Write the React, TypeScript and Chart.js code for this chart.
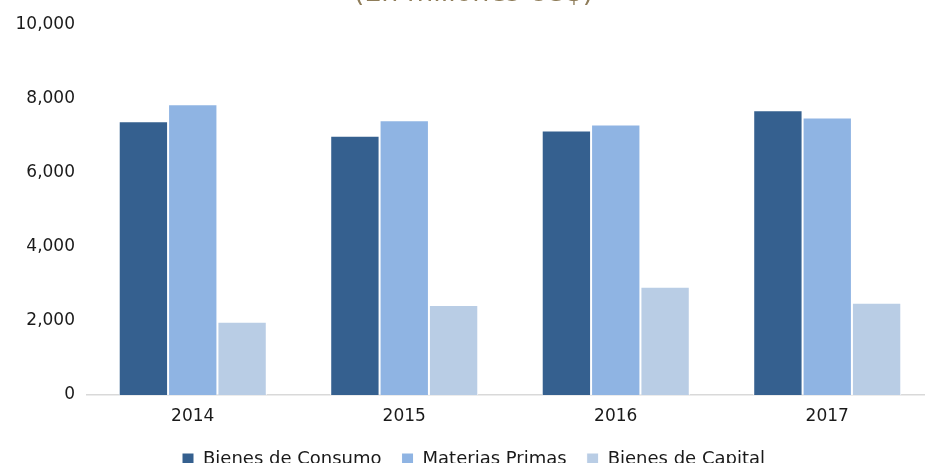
import React, { useEffect, useRef } from "react";
import { Chart, registerables } from "chart.js";

Chart.register(...registerables);

const years = ["2014", "2015", "2016", "2017"];
const bienesConsumo = [7390, 7000, 7140, 7690];
const materiasPrimas = [7850, 7420, 7300, 7490];
const bienesCapital = [1975, 2430, 2920, 2490];
const seriesNames = ["Bienes de Consumo", "Materias Primas", "Bienes de Capital"];
const seriesColors = ["#35608F", "#8FB4E3", "#B9CDE5"];
const titleText = "(En millones US$)";

const FONT = "'DejaVu Sans', sans-serif";
const W = 945;
const H = 508;

export default function App() {
  const ref = useRef<HTMLCanvasElement | null>(null);

  useEffect(() => {
    document.body.style.margin = "0";
    document.body.style.overflow = "hidden";
    const ctx = ref.current!;
    const values = [bienesConsumo, materiasPrimas, bienesCapital];
    const chart = new Chart(ctx, {
      type: "bar",
      data: {
        labels: years,
        datasets: seriesNames.map((name, i) => ({
          label: name,
          data: values[i],
          backgroundColor: seriesColors[i],
          borderColor: "#ffffff",
          borderWidth: 1,
          categoryPercentage: 0.7,
          barPercentage: 1,
        })),
      },
      options: {
        animation: false,
        responsive: false,
        maintainAspectRatio: false,
        layout: { padding: { left: 14, right: 12, top: 0, bottom: 0 } },
        plugins: {
          title: {
            display: true,
            text: titleText,
            color: "#8F7D5A",
            font: { family: FONT, size: 27, weight: "normal" },
            padding: { top: 8, bottom: 14.2 },
          },
          legend: {
            position: "bottom",
            labels: {
              color: "#1a1a1a",
              font: { family: FONT, size: 18 },
              boxWidth: 12,
              boxHeight: 12,
              padding: 20,
            },
          },
          tooltip: { enabled: false },
        },
        scales: {
          x: {
            grid: { display: false, drawTicks: false },
            border: { display: true, color: "#D9D9D9", width: 1.5 },
            ticks: { color: "#1a1a1a", font: { family: FONT, size: 17 }, padding: 11 },
            afterFit: (s: any) => {
              s.height = 35;
            },
          },
          y: {
            min: 0,
            max: 10000,
            grid: { display: false, drawTicks: false },
            border: { display: false },
            ticks: {
              stepSize: 2000,
              color: "#1a1a1a",
              font: { family: FONT, size: 17 },
              padding: 12,
              callback: (v: any) => Number(v).toLocaleString("en-US"),
            },
            afterFit: (s: any) => {
              s.width = 73;
            },
          },
        },
      },
    });
    return () => chart.destroy();
  }, []);

  return (
    <div style={{ position: "absolute", left: 0, top: -30, width: W, height: H }}>
      <canvas ref={ref} width={W} height={H} style={{ width: W, height: H }} />
    </div>
  );
}
